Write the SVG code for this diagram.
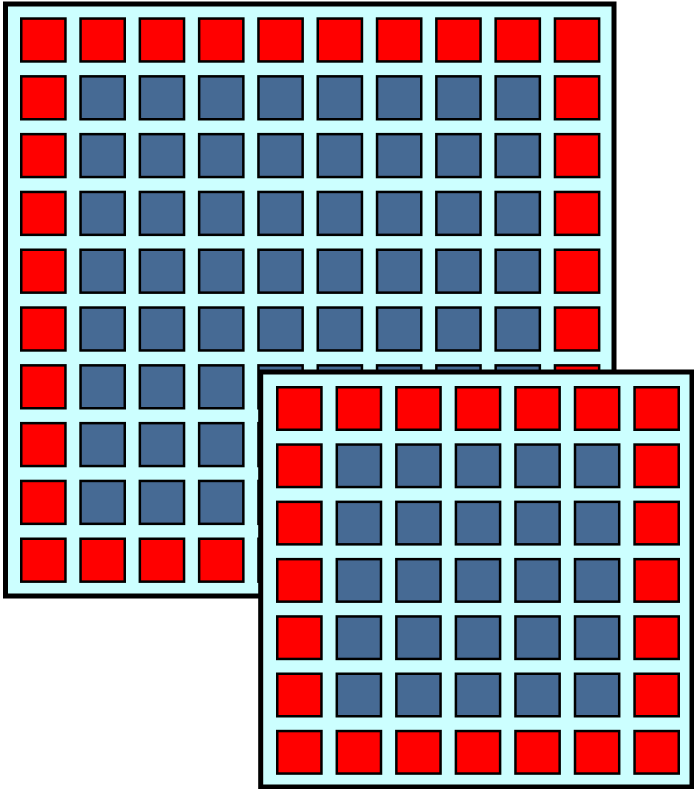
<svg xmlns="http://www.w3.org/2000/svg" width="694" height="789" viewBox="0 0 694 789">
<style>
.panel{fill:#ccffff;stroke:#000;stroke-width:5}
.r{fill:#ff0000;stroke:#000;stroke-width:2.5}
.b{fill:#466a94;stroke:#000;stroke-width:2.5}
</style>
<defs>
<rect id="L" width="44.2" height="42.9"/>
<rect id="S" width="44.2" height="42.5"/>
<g id="Lred"><use href="#L" x="21.25"/><use href="#L" x="80.55"/><use href="#L" x="139.85"/><use href="#L" x="199.15"/><use href="#L" x="258.45"/><use href="#L" x="317.75"/><use href="#L" x="377.05"/><use href="#L" x="436.35"/><use href="#L" x="495.65"/><use href="#L" x="554.95"/></g>
<g id="Lmid"><use href="#L" x="21.25" class="r"/><use href="#L" x="80.55"/><use href="#L" x="139.85"/><use href="#L" x="199.15"/><use href="#L" x="258.45"/><use href="#L" x="317.75"/><use href="#L" x="377.05"/><use href="#L" x="436.35"/><use href="#L" x="495.65"/><use href="#L" x="554.95" class="r"/></g>
<g id="Sred"><use href="#S" x="277.25"/><use href="#S" x="336.8"/><use href="#S" x="396.35"/><use href="#S" x="455.9"/><use href="#S" x="515.45"/><use href="#S" x="575"/><use href="#S" x="634.55"/></g>
<g id="Smid"><use href="#S" x="277.25" class="r"/><use href="#S" x="336.8"/><use href="#S" x="396.35"/><use href="#S" x="455.9"/><use href="#S" x="515.45"/><use href="#S" x="575"/><use href="#S" x="634.55" class="r"/></g>
</defs>
<g id="large-panel">
<rect class="panel" x="5.5" y="4" width="608.5" height="592"/>
<use href="#Lred" y="18.55" class="r"/>
<use href="#Lmid" y="76.35" class="b"/>
<use href="#Lmid" y="134.15" class="b"/>
<use href="#Lmid" y="191.95" class="b"/>
<use href="#Lmid" y="249.75" class="b"/>
<use href="#Lmid" y="307.55" class="b"/>
<use href="#Lmid" y="365.35" class="b"/>
<use href="#Lmid" y="423.15" class="b"/>
<use href="#Lmid" y="480.95" class="b"/>
<use href="#Lred" y="538.75" class="r"/>
</g>
<g id="small-panel">
<rect class="panel" x="260.7" y="372" width="431.3" height="415"/>
<use href="#Sred" y="387.25" class="r"/>
<use href="#Smid" y="444.55" class="b"/>
<use href="#Smid" y="501.85" class="b"/>
<use href="#Smid" y="559.15" class="b"/>
<use href="#Smid" y="616.45" class="b"/>
<use href="#Smid" y="673.75" class="b"/>
<use href="#Sred" y="731.05" class="r"/>
</g>
</svg>
